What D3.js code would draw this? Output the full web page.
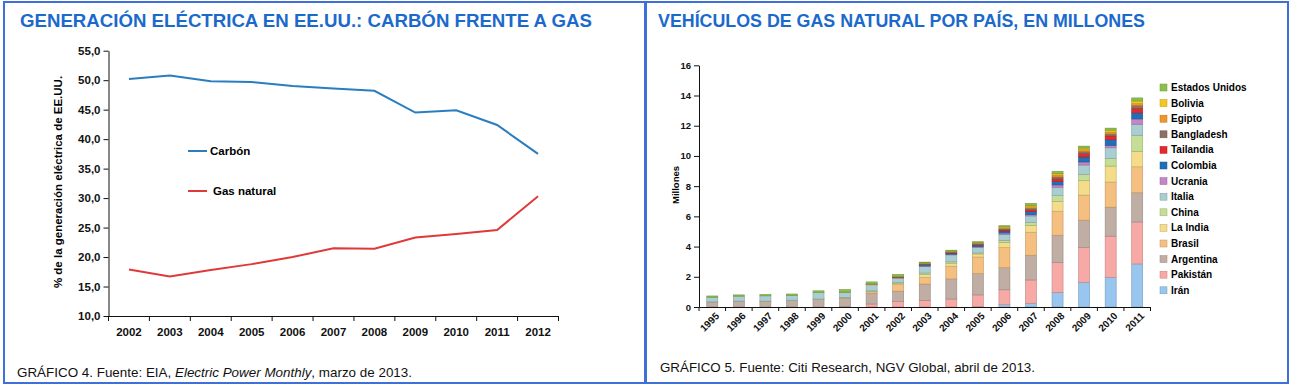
<!DOCTYPE html>
<html lang="es">
<head>
    <meta charset="UTF-8">
    <title>Carbón frente a gas / Vehículos de gas natural</title>
    <script src="https://cdnjs.cloudflare.com/ajax/libs/d3/7.8.5/d3.min.js"></script>
    <style>
        body {
            margin: 0;
            background: #fff;
            font-family: "Liberation Sans", Arial, sans-serif;
        }
        .title {
            font-size: 18.5px;
            font-weight: bold;
            fill: #1b6acb;
        }
        .footer {
            font-family: "Liberation Sans", Arial, sans-serif;
            font-size: 13.5px;
            fill: #111;
        }
        .axis text {
            font-weight: bold;
            fill: #111;
        }
        .axis path, .axis line {
            stroke: #111;
        }
        .panel {
            fill: none;
            stroke: #3f6fd8;
            stroke-width: 2px;
        }
    </style>
</head>
<body>
    <div id="container"></div>

    <script>
        // ---- Data: left chart (% de generación eléctrica) ----
        const years1 = ["2002", "2003", "2004", "2005", "2006", "2007", "2008", "2009", "2010", "2011", "2012"];
        const carbon = [50.2, 50.8, 49.8, 49.7, 49.0, 48.6, 48.2, 44.5, 44.9, 42.4, 37.5];
        const gas = [17.9, 16.7, 17.8, 18.8, 20.0, 21.5, 21.4, 23.3, 23.9, 24.6, 30.3];
        const yTicks1 = [10, 15, 20, 25, 30, 35, 40, 45, 50, 55];

        // ---- Data: right chart (millones de vehículos) ----
        const years2 = ["1995", "1996", "1997", "1998", "1999", "2000", "2001", "2002", "2003",
                        "2004", "2005", "2006", "2007", "2008", "2009", "2010", "2011"];
        const countries = ["Irán", "Pakistán", "Argentina", "Brasil", "La India", "China", "Italia",
                           "Ucrania", "Colombia", "Tailandia", "Bangladesh", "Egipto", "Bolivia", "Estados Unidos"];
        const iran = [0, 0, 0, 0, 0, 0, 0, 0, 0, 0, 0.02, 0.15, 0.25, 0.97, 1.64, 1.97, 2.85];
        const pakistan = [0, 0, 0, 0, 0, 0.03, 0.2, 0.35, 0.44, 0.53, 0.78, 0.99, 1.54, 1.99, 2.29, 2.72, 2.78];
        const argentina = [0.33, 0.38, 0.38, 0.42, 0.5, 0.55, 0.71, 0.7, 1.08, 1.33, 1.41, 1.46, 1.64, 1.79, 1.82, 1.92, 1.93];
        const brasil = [0.01, 0.01, 0.01, 0.02, 0.02, 0.03, 0.1, 0.44, 0.44, 0.84, 1.1, 1.33, 1.52, 1.59, 1.66, 1.66, 1.72];
        const india = [0, 0, 0, 0, 0, 0.01, 0.03, 0.07, 0.18, 0.2, 0.2, 0.35, 0.46, 0.64, 0.95, 1.06, 1.03];
        const china = [0, 0, 0, 0.01, 0.01, 0.01, 0.03, 0.05, 0.11, 0.09, 0.07, 0.13, 0.2, 0.4, 0.42, 0.5, 1.06];
        const italia = [0.31, 0.33, 0.35, 0.31, 0.42, 0.35, 0.4, 0.3, 0.42, 0.46, 0.37, 0.4, 0.42, 0.55, 0.62, 0.71, 0.73];
        const ucrania = [0, 0, 0, 0, 0, 0, 0.02, 0.03, 0.05, 0.05, 0.05, 0.09, 0.09, 0.15, 0.2, 0.15, 0.35];
        const colombia = [0, 0, 0, 0, 0, 0, 0, 0.02, 0.1, 0.07, 0.1, 0.13, 0.2, 0.22, 0.33, 0.38, 0.4];
        const tailandia = [0, 0, 0, 0, 0, 0, 0, 0.01, 0.01, 0.02, 0.03, 0.07, 0.11, 0.18, 0.22, 0.25, 0.3];
        const bangladesh = [0, 0, 0, 0, 0, 0, 0.01, 0.02, 0.03, 0.04, 0.05, 0.07, 0.11, 0.13, 0.13, 0.13, 0.18];
        const egipto = [0, 0, 0, 0, 0, 0.01, 0.02, 0.03, 0.04, 0.04, 0.05, 0.07, 0.1, 0.13, 0.13, 0.13, 0.13];
        const bolivia = [0, 0, 0, 0, 0, 0, 0.01, 0.02, 0.02, 0.03, 0.04, 0.07, 0.09, 0.11, 0.11, 0.13, 0.18];
        const eeuu = [0.08, 0.08, 0.08, 0.1, 0.12, 0.16, 0.13, 0.11, 0.05, 0.06, 0.05, 0.07, 0.13, 0.13, 0.13, 0.13, 0.2];
        const yTicks2 = [0, 2, 4, 6, 8, 10, 12, 14, 16];

        const series2 = [iran, pakistan, argentina, brasil, india, china, italia,
                         ucrania, colombia, tailandia, bangladesh, egipto, bolivia, eeuu];
        const colors2 = ["#98c6ee", "#f7a9a6", "#c0aea5", "#f5bf80", "#f4dc88", "#c4de98", "#a8ced2",
                         "#c585c6", "#1f71b7", "#e6282c", "#8b7262", "#f0952c", "#f2c820", "#8cc04c"];

        const W = 1297, H = 390;
        const svg = d3.select("#container").append("svg")
            .attr("width", W)
            .attr("height", H);

        svg.append("rect").attr("width", W).attr("height", H).attr("fill", "#fff");

        // panel frames
        svg.append("rect").attr("class", "panel").attr("x", 4).attr("y", 2).attr("width", 641).attr("height", 381);
        svg.append("rect").attr("class", "panel").attr("x", 646).attr("y", 2).attr("width", 642).attr("height", 381);

        // titles
        svg.append("text").attr("class", "title").attr("x", 20).attr("y", 27)
            .attr("textLength", 572).attr("lengthAdjust", "spacingAndGlyphs")
            .text("GENERACIÓN ELÉCTRICA EN EE.UU.: CARBÓN FRENTE A GAS");
        svg.append("text").attr("class", "title").attr("x", 658).attr("y", 27)
            .attr("textLength", 487).attr("lengthAdjust", "spacingAndGlyphs")
            .text("VEHÍCULOS DE GAS NATURAL POR PAÍS, EN MILLONES");

        // footers
        const f1 = svg.append("text").attr("class", "footer").attr("x", 17).attr("y", 377)
            .attr("textLength", 395).attr("lengthAdjust", "spacingAndGlyphs");
        f1.append("tspan").text("GRÁFICO 4. Fuente: EIA, ");
        f1.append("tspan").style("font-style", "italic").text("Electric Power Monthly");
        f1.append("tspan").text(", marzo de 2013.");
        svg.append("text").attr("class", "footer").attr("x", 660).attr("y", 372)
            .attr("textLength", 375).attr("lengthAdjust", "spacingAndGlyphs")
            .text("GRÁFICO 5. Fuente: Citi Research, NGV Global, abril de 2013.");

        // ---------------- Left chart: lines ----------------
        const x1 = d3.scaleBand().domain(years1).range([108.5, 558.5]);
        const y1 = d3.scaleLinear().domain([10, 55]).range([316, 50.7]);
        const g1 = svg.append("g");

        g1.append("g").attr("class", "axis")
            .attr("transform", "translate(108.5,0)")
            .call(d3.axisLeft(y1).tickValues(yTicks1).tickSize(5).tickSizeOuter(0)
                .tickFormat(d => d3.format(".1f")(d).replace(".", ",")))
            .call(a => a.selectAll("text").style("font-size", "11.5px"));

        const xAxis1 = g1.append("g").attr("class", "axis")
            .attr("transform", "translate(0,316)")
            .call(d3.axisBottom(x1).tickSize(0).tickSizeOuter(0));
        xAxis1.selectAll("text").attr("dy", "1.5em").style("font-size", "11.5px");
        // ticks between categories
        xAxis1.selectAll(".sep").data(d3.range(years1.length + 1)).enter().append("line")
            .attr("class", "sep")
            .attr("x1", i => x1.range()[0] + i * x1.step())
            .attr("x2", i => x1.range()[0] + i * x1.step())
            .attr("y1", 0).attr("y2", 5);

        const line1 = d3.line()
            .x((d, i) => x1(years1[i]) + x1.bandwidth() / 2)
            .y(d => y1(d));

        g1.append("path").datum(carbon).attr("d", line1)
            .attr("fill", "none").attr("stroke", "#2a7dbf").attr("stroke-width", 2);
        g1.append("path").datum(gas).attr("d", line1)
            .attr("fill", "none").attr("stroke", "#e0393a").attr("stroke-width", 2);

        g1.append("text")
            .attr("transform", "translate(62,182) rotate(-90)")
            .attr("text-anchor", "middle")
            .style("font-size", "11.5px").style("font-weight", "bold")
            .text("% de la generación eléctrica de EE.UU.");

        // legend left
        const leg1 = [["Carbón", "#2a7dbf", 151, 210], ["Gas natural", "#e0393a", 191, 213]];
        leg1.forEach(l => {
            g1.append("line").attr("x1", 188).attr("x2", 207).attr("y1", l[2]).attr("y2", l[2])
                .attr("stroke", l[1]).attr("stroke-width", 2);
            g1.append("text").attr("x", l[3]).attr("y", l[2] + 4)
                .style("font-size", "11.5px").style("font-weight", "bold").text(l[0]);
        });

        // ---------------- Right chart: stacked bars ----------------
        const x2 = d3.scaleBand().domain(years2).range([699, 1150.5])
            .paddingInner(0.585).paddingOuter(0.2925);
        const y2 = d3.scaleLinear().domain([0, 16]).range([307, 65.3]);
        const g2 = svg.append("g");

        const rows = years2.map((yr, i) => {
            const r = { year: yr };
            countries.forEach((c, k) => r[c] = series2[k][i]);
            return r;
        });
        const stacked = d3.stack().keys(countries)(rows);

        g2.selectAll(".layer").data(stacked).enter().append("g")
            .attr("class", "layer")
            .attr("fill", (d, k) => colors2[k])
            .attr("stroke", (d, k) => d3.color(colors2[k]).darker(0.7))
            .attr("stroke-width", 0.6)
            .selectAll("rect").data(d => d.filter(s => s[1] - s[0] > 0)).enter().append("rect")
            .attr("x", d => x2(d.data.year))
            .attr("width", x2.bandwidth())
            .attr("y", d => y2(d[1]))
            .attr("height", d => y2(d[0]) - y2(d[1]));

        g2.append("g").attr("class", "axis")
            .attr("transform", "translate(699,0)")
            .call(d3.axisLeft(y2).tickValues(yTicks2).tickSize(5).tickSizeOuter(0))
            .call(a => a.selectAll("text").style("font-size", "9.5px"));

        const xAxis2 = g2.append("g").attr("class", "axis")
            .attr("transform", "translate(0,307)")
            .call(d3.axisBottom(x2).tickSize(0).tickSizeOuter(0));
        xAxis2.selectAll("text")
            .style("font-size", "10px")
            .attr("text-anchor", "end")
            .attr("transform", "translate(3,5) rotate(-45)")
            .attr("dy", "0.35em");
        xAxis2.selectAll(".sep").data(d3.range(years2.length + 1)).enter().append("line")
            .attr("class", "sep")
            .attr("x1", i => 699 + i * x2.step())
            .attr("x2", i => 699 + i * x2.step())
            .attr("y1", 0).attr("y2", 4);

        g2.append("text")
            .attr("transform", "translate(679,185) rotate(-90)")
            .attr("text-anchor", "middle")
            .style("font-size", "9.5px").style("font-weight", "bold")
            .text("Millones");

        // legend right (top = last series)
        const leg2 = g2.append("g").attr("transform", "translate(1160,0)");
        countries.slice().reverse().forEach((c, j) => {
            const k = countries.length - 1 - j;
            const yy = 87.5 + j * 15.6;
            leg2.append("rect").attr("x", 0).attr("y", yy - 3.5).attr("width", 7).attr("height", 7)
                .attr("fill", colors2[k]).attr("stroke", d3.color(colors2[k]).darker(0.7)).attr("stroke-width", 0.5);
            leg2.append("text").attr("x", 11).attr("y", yy + 3.5)
                .style("font-size", "10px").style("font-weight", "bold").text(c);
        });
    </script>
</body>
</html>
